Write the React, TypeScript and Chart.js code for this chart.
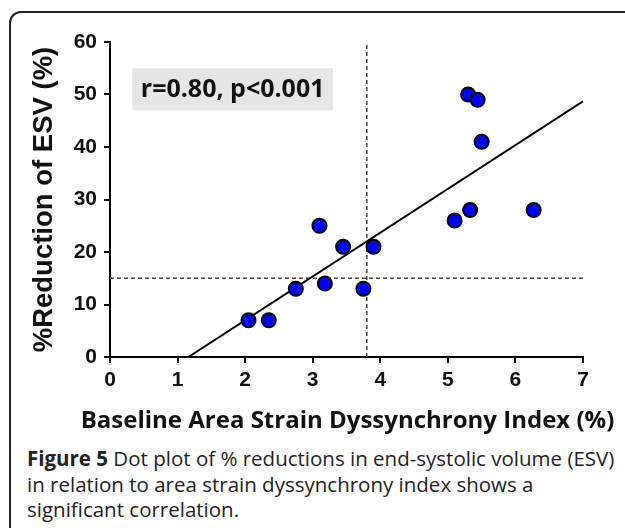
import React, { useEffect, useRef } from "react";
import { Chart, registerables } from "chart.js";

Chart.register(...registerables);

// Data
const indexValues = [2.05, 2.35, 2.75, 3.1, 3.18, 3.45, 3.75, 3.9, 5.1, 5.33, 6.27, 5.3, 5.44, 5.5];
const esvReduction = [7, 7, 13, 25, 14, 21, 13, 21, 26, 28, 28, 50, 49, 41];
const fitX = [1.16, 7];
const fitY = [0, 48.7];
const cutoffIndex = 3.8;
const cutoffEsv = 15;
const xTicks = [0, 1, 2, 3, 4, 5, 6, 7];
const yTicks = [0, 10, 20, 30, 40, 50, 60];
const statText = "r=0.80, p<0.001";
const statBoxX = [0.33, 3.3];
const statBoxY = [47, 55];
const xTitle = "Baseline Area Strain Dyssynchrony Index (%)";
const yTitle = "%Reduction of ESV (%)";

const W = 625;
const H = 440;

const statBoxPlugin = {
  id: "statBox",
  beforeDatasetsDraw(chart: any) {
    const { ctx, scales } = chart;
    const x0 = scales.x.getPixelForValue(statBoxX[0]);
    const x1 = scales.x.getPixelForValue(statBoxX[1]);
    const y0 = scales.y.getPixelForValue(statBoxY[1]);
    const y1 = scales.y.getPixelForValue(statBoxY[0]);
    ctx.save();
    ctx.fillStyle = "#e6e6e6";
    ctx.fillRect(x0, y0, x1 - x0, y1 - y0);
    ctx.fillStyle = "#111";
    ctx.font = "bold 25px 'Open Sans', sans-serif";
    ctx.textAlign = "center";
    ctx.textBaseline = "middle";
    ctx.fillText(statText, (x0 + x1) / 2, (y0 + y1) / 2 + 1);
    ctx.restore();
  },
};

// X-axis title drawn without the axis-width clamp Chart.js applies
const xTitlePlugin = {
  id: "xTitleWide",
  afterDraw(chart: any) {
    const { ctx, chartArea } = chart;
    ctx.save();
    ctx.fillStyle = "#111";
    ctx.font = "bold 24px 'Open Sans', sans-serif";
    ctx.textAlign = "center";
    ctx.textBaseline = "alphabetic";
    ctx.fillText(xTitle, (chartArea.left + chartArea.right) / 2 + 1, chartArea.bottom + 71);
    ctx.restore();
  },
};

export default function App() {
  const ref = useRef<HTMLCanvasElement>(null);
  useEffect(() => {
    if (!ref.current) return;
    const dash = [4, 3];
    const chart = new Chart(ref.current, {
      type: "scatter",
      data: {
        datasets: [
          {
            label: "points",
            data: indexValues.map((x, i) => ({ x, y: esvReduction[i] })),
            backgroundColor: "#0000ff",
            borderColor: "#000",
            borderWidth: 2,
            pointRadius: 7,
            order: 0,
          } as any,
          {
            type: "line",
            label: "fit",
            data: fitX.map((x, i) => ({ x, y: fitY[i] })),
            borderColor: "#000",
            borderWidth: 2,
            pointRadius: 0,
            showLine: true,
            order: 1,
          },
          {
            type: "line",
            label: "vcut",
            data: [
              { x: cutoffIndex, y: yTicks[0] },
              { x: cutoffIndex, y: yTicks[yTicks.length - 1] },
            ],
            borderColor: "#444",
            borderWidth: 1.5,
            borderDash: dash,
            pointRadius: 0,
            showLine: true,
            order: 2,
          },
          {
            type: "line",
            label: "hcut",
            data: [
              { x: xTicks[0], y: cutoffEsv },
              { x: xTicks[xTicks.length - 1], y: cutoffEsv },
            ],
            borderColor: "#444",
            borderWidth: 1.5,
            borderDash: dash,
            pointRadius: 0,
            showLine: true,
            order: 2,
          },
        ],
      },
      options: {
        responsive: false,
        animation: false,
        layout: { padding: { left: 0, top: 42, right: 42, bottom: 0 } },
        plugins: { legend: { display: false }, tooltip: { enabled: false } },
        scales: {
          x: {
            type: "linear",
            min: xTicks[0],
            max: xTicks[xTicks.length - 1],
            afterBuildTicks: (s: any) => {
              s.ticks = xTicks.map((v) => ({ value: v }));
            },
            afterFit: (s: any) => {
              s.height = H - 357;
            },
            border: { display: true, color: "#000", width: 2 },
            grid: {
              display: true,
              drawOnChartArea: false,
              drawTicks: true,
              tickLength: 6,
              color: "#000",
              lineWidth: 2,
            },
            ticks: {
              color: "#111",
              padding: 5,
              font: { family: "'Liberation Sans', Arial, sans-serif", weight: "bold", size: 21 },
            },
            title: { display: false, text: xTitle },
          },
          y: {
            type: "linear",
            min: yTicks[0],
            max: yTicks[yTicks.length - 1],
            afterBuildTicks: (s: any) => {
              s.ticks = yTicks.map((v) => ({ value: v }));
            },
            afterFit: (s: any) => {
              s.width = 110;
            },
            border: { display: true, color: "#000", width: 2 },
            grid: {
              display: true,
              drawOnChartArea: false,
              drawTicks: true,
              tickLength: 6,
              color: "#000",
              lineWidth: 2,
            },
            ticks: {
              color: "#111",
              padding: 7,
              font: { family: "'Liberation Sans', Arial, sans-serif", weight: "bold", size: 21 },
            },
            title: {
              display: true,
              text: yTitle,
              color: "#111",
              padding: { top: 28, bottom: 0 },
              font: { family: "'Liberation Sans', Arial, sans-serif", weight: "bold", size: 27.5 },
            },
          },
        },
      },
      plugins: [statBoxPlugin, xTitlePlugin],
    } as any);
    return () => chart.destroy();
  }, []);

  return (
    <div
      style={{
        position: "absolute",
        left: 0,
        top: 0,
        width: W,
        height: 528,
        background: "#fff",
        overflow: "hidden",
      }}
    >
      <div
        style={{
          position: "absolute",
          left: 9,
          top: 11,
          width: 700,
          height: 600,
          borderTop: "2px solid #222",
          borderLeft: "2px solid #222",
          borderTopLeftRadius: 12,
        }}
      />
      <canvas
        ref={ref}
        width={W}
        height={H}
        style={{ position: "absolute", left: 0, top: 0, display: "block" }}
      />
      <div
        style={{
          position: "absolute",
          left: 27,
          top: 446,
          fontFamily: "'Open Sans', sans-serif",
          fontSize: 20.5,
          lineHeight: "25.5px",
          color: "#222",
          whiteSpace: "nowrap",
        }}
      >
        <b>Figure 5</b> Dot plot of % reductions in end-systolic volume (ESV)
        <br />
        in relation to area strain dyssynchrony index shows a
        <br />
        significant correlation.
      </div>
    </div>
  );
}
